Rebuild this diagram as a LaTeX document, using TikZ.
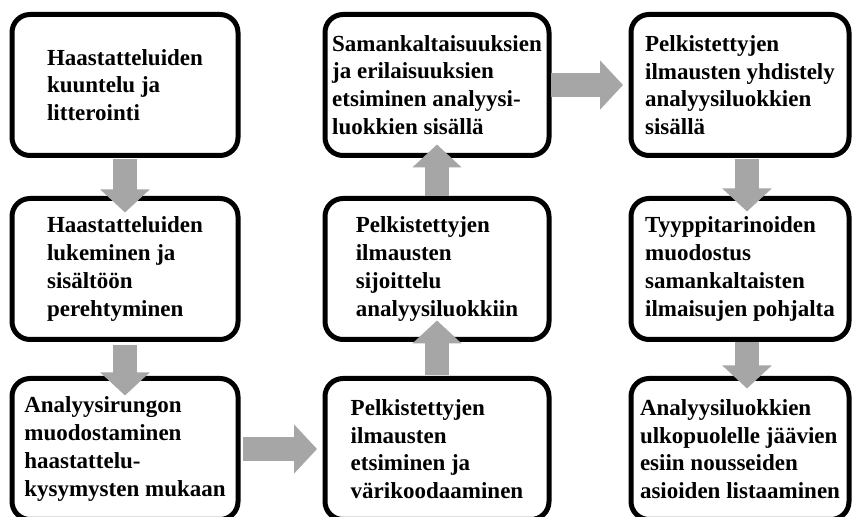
\documentclass[tikz,border=0pt]{standalone}
\usepackage{fontspec}
\setmainfont{Liberation Serif}
\usepackage{xcolor}
\usepackage{tikz}
\usetikzlibrary{arrows.meta,positioning}
\definecolor{flowgrey}{RGB}{166,166,166}

\begin{document}
\begin{tikzpicture}[
  x=1pt,y=1pt,
  every node/.style={font=\fontsize{23}{27.7}\selectfont\bfseries,align=left},
  stepbox/.style={draw=black,line width=5pt,rounded corners=18pt,
                  outer sep=0pt,fill=white,minimum height=141pt},
  flow/.style={draw=flowgrey,line width=24pt,
               -{Triangle[width=48pt,length=23pt]}}
]
\clip (0,0) rectangle (852,517);
\fill[white] (0,0) rectangle (852,517);
% first column
\node[stepbox,minimum width=226pt] (listen) at (125,432)
  {Haastatteluiden\\kuuntelu ja\\litterointi};
\node[stepbox,minimum width=226pt,below=43pt of listen] (read)
  {Haastatteluiden\\lukeminen ja\\sisältöön\\perehtyminen};
\node[stepbox,minimum width=226pt,below=39pt of read] (frame)
  {Analyysirungon\\muodostaminen\\haastattelu-\\kysymysten mukaan};
% second column
\node[stepbox,minimum width=224pt,right=87pt of listen] (compare)
  {Samankaltaisuuksien\\ja erilaisuuksien\\etsiminen analyysi-\\luokkien sisällä};
\node[stepbox,minimum width=224pt,below=43pt of compare] (place)
  {Pelkistettyjen\\ilmausten\\sijoittelu\\analyysiluokkiin};
\node[stepbox,minimum width=224pt,below=39pt of place] (colour)
  {Pelkistettyjen\\ilmausten\\etsiminen ja\\värikoodaaminen};
% third column
\node[stepbox,minimum width=218pt,right=82pt of compare] (combine)
  {Pelkistettyjen\\ilmausten yhdistely\\analyysiluokkien\\sisällä};
\node[stepbox,minimum width=218pt,below=43pt of combine] (types)
  {Tyyppitarinoiden\\muodostus\\samankaltaisten\\ilmaisujen pohjalta};
\node[stepbox,minimum width=218pt,below=39pt of types] (rest)
  {Analyysiluokkien\\ulkopuolelle jäävien\\esiin nousseiden\\asioiden listaaminen};
% flow
\draw[flow,shorten <=4pt,shorten >=-14pt] (listen) -- (read);
\draw[flow,shorten <=6pt,shorten >=-17pt] (read) -- (frame);
\draw[flow,shorten <=5pt,shorten >=8pt] (frame) -- (colour);
\draw[flow,shorten <=3pt,shorten >=-19pt] (colour) -- (place);
\draw[flow,shorten <=2pt,shorten >=-11pt] (place) -- (compare);
\draw[flow,shorten <=2pt,shorten >=8pt] (compare) -- (combine);
\draw[flow,shorten <=4pt,shorten >=-13pt]
  ([xshift=7pt]combine.south) -- ([xshift=7pt]types.north);
\draw[flow,shorten <=2.5pt,shorten >=-10pt]
  ([xshift=7pt]types.south) -- ([xshift=7pt]rest.north);
\end{tikzpicture}
\end{document}
